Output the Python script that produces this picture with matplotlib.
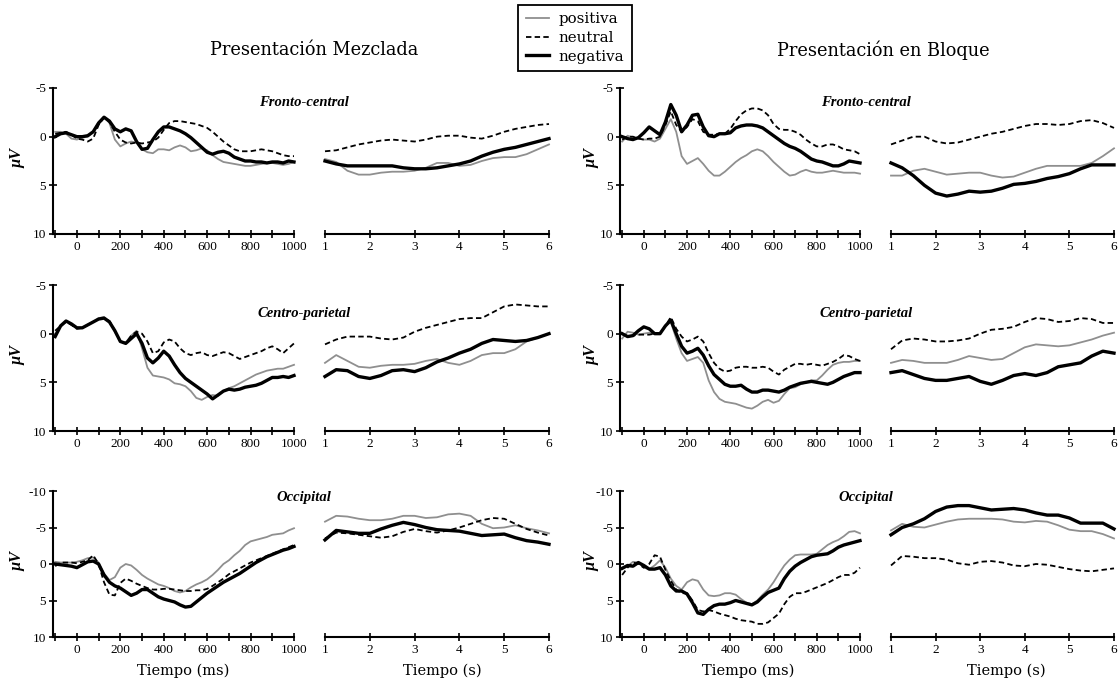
import matplotlib
matplotlib.use('Agg')
import matplotlib.pyplot as plt
from matplotlib.lines import Line2D
from matplotlib.ticker import MultipleLocator, FixedLocator

# ---------------- data ----------------
t_ms = list(range(-100, 1001, 25))          # ms sample times
t_s = [1 + 0.25 * i for i in range(21)]      # s sample times

conditions = ['positiva', 'neutral', 'negativa']
regions = ['Fronto-central', 'Centro-parietal', 'Occipital']
groups = ['Presentación Mezclada', 'Presentación en Bloque']

# Mezclada - Fronto-central
mez_fc_pos_ms = [-0.5, -0.5, -0.3, 0.2, 0.3, 0.1, 0.0, -0.5, -1.5, -2.0, -1.4, 0.3, 1.0, 0.7, 0.5, 0.6, 1.3, 1.6, 1.7, 1.3, 1.3, 1.4, 1.1, 0.9, 1.1, 1.5, 1.4, 1.2, 1.4, 1.9, 2.3, 2.6, 2.7, 2.8, 2.9, 3.0, 3.0, 2.9, 2.8, 2.7, 2.7, 2.8, 2.9, 2.8, 2.6]
mez_fc_neu_ms = [-0.3, -0.4, -0.5, -0.2, 0.2, 0.3, 0.5, 0.2, -1.2, -2.0, -1.5, -0.5, 0.3, 0.6, 0.7, 0.6, 0.7, 0.6, 0.5, 0.1, -0.7, -1.4, -1.6, -1.6, -1.5, -1.4, -1.3, -1.1, -0.9, -0.5, 0.0, 0.5, 0.9, 1.3, 1.5, 1.5, 1.5, 1.4, 1.3, 1.4, 1.5, 1.7, 1.9, 2.0, 2.0]
mez_fc_neg_ms = [0.0, -0.3, -0.4, -0.2, 0.0, 0.0, -0.1, -0.5, -1.4, -2.0, -1.6, -0.8, -0.5, -0.8, -0.6, 0.5, 1.3, 1.2, 0.3, -0.5, -1.0, -1.0, -0.8, -0.6, -0.3, 0.1, 0.6, 1.1, 1.6, 1.8, 1.6, 1.5, 1.7, 2.1, 2.3, 2.5, 2.5, 2.6, 2.6, 2.7, 2.6, 2.6, 2.7, 2.5, 2.6]
mez_fc_pos_s = [2.3, 2.6, 3.5, 3.9, 3.9, 3.7, 3.6, 3.6, 3.5, 3.2, 2.7, 2.7, 3.0, 2.9, 2.5, 2.2, 2.1, 2.1, 1.8, 1.3, 0.8]
mez_fc_neu_s = [1.5, 1.4, 1.1, 0.8, 0.6, 0.4, 0.3, 0.4, 0.5, 0.3, 0.0, -0.1, -0.1, 0.1, 0.2, -0.1, -0.5, -0.8, -1.0, -1.2, -1.3]
mez_fc_neg_s = [2.5, 2.8, 3.0, 3.0, 3.0, 3.0, 3.0, 3.2, 3.3, 3.3, 3.2, 3.0, 2.8, 2.5, 2.0, 1.6, 1.3, 1.1, 0.8, 0.5, 0.2]

# Bloque - Fronto-central
blo_fc_pos_ms = [0.5, -0.1, 0.1, 0.2, 0.3, 0.3, 0.5, 0.2, -0.8, -1.8, -0.5, 2.0, 2.8, 2.5, 2.2, 2.8, 3.5, 4.0, 4.0, 3.6, 3.1, 2.6, 2.2, 1.9, 1.5, 1.3, 1.5, 2.0, 2.6, 3.1, 3.6, 4.0, 3.9, 3.6, 3.4, 3.6, 3.7, 3.7, 3.6, 3.5, 3.6, 3.7, 3.7, 3.7, 3.8]
blo_fc_neu_ms = [0.3, 0.0, 0.0, 0.2, 0.3, 0.2, 0.2, 0.0, -1.2, -2.6, -1.2, -0.5, -1.0, -1.8, -1.6, -0.5, -0.2, -0.2, -0.3, -0.3, -0.8, -1.6, -2.3, -2.7, -2.9, -2.9, -2.7, -2.2, -1.3, -0.8, -0.7, -0.7, -0.5, -0.2, 0.3, 0.7, 1.0, 1.0, 0.8, 0.8, 1.0, 1.3, 1.4, 1.5, 1.8]
blo_fc_neg_ms = [0.0, 0.2, 0.3, 0.1, -0.4, -1.0, -0.6, -0.2, -1.5, -3.3, -2.2, -0.5, -1.2, -2.2, -2.3, -1.0, -0.1, 0.0, -0.3, -0.3, -0.4, -0.9, -1.1, -1.2, -1.2, -1.1, -0.9, -0.5, -0.1, 0.3, 0.7, 1.0, 1.2, 1.5, 1.9, 2.3, 2.5, 2.6, 2.8, 3.0, 3.0, 2.8, 2.5, 2.6, 2.7]
blo_fc_pos_s = [4.0, 4.0, 3.5, 3.3, 3.6, 3.9, 3.8, 3.7, 3.7, 4.0, 4.2, 4.1, 3.7, 3.3, 3.0, 3.0, 3.0, 3.0, 2.7, 2.0, 1.2]
blo_fc_neu_s = [0.8, 0.4, 0.0, 0.0, 0.5, 0.7, 0.6, 0.3, 0.0, -0.3, -0.5, -0.8, -1.1, -1.3, -1.3, -1.2, -1.3, -1.6, -1.7, -1.4, -0.9]
blo_fc_neg_s = [2.7, 3.2, 4.0, 5.0, 5.8, 6.1, 5.9, 5.6, 5.7, 5.6, 5.3, 4.9, 4.8, 4.6, 4.3, 4.1, 3.8, 3.3, 2.9, 2.9, 2.9]

# Mezclada - Centro-parietal
mez_cp_pos_ms = [0.0, -0.7, -1.3, -0.9, -0.6, -0.6, -0.9, -1.2, -1.6, -1.7, -1.3, -0.2, 0.8, 0.9, 0.2, -0.3, 1.5, 3.5, 4.3, 4.4, 4.5, 4.7, 5.1, 5.2, 5.4, 5.9, 6.6, 6.8, 6.5, 6.3, 6.4, 5.9, 5.6, 5.4, 5.1, 4.8, 4.5, 4.2, 4.0, 3.8, 3.7, 3.6, 3.6, 3.4, 3.2]
mez_cp_neu_ms = [-0.3, -0.8, -1.2, -0.9, -0.5, -0.6, -0.9, -1.2, -1.5, -1.6, -1.3, -0.3, 0.8, 1.0, 0.2, -0.2, 0.0, 0.8, 2.0, 1.8, 0.9, 0.6, 0.8, 1.5, 2.0, 2.2, 2.0, 1.9, 2.2, 2.3, 2.1, 1.9, 2.0, 2.3, 2.6, 2.4, 2.2, 2.0, 1.8, 1.5, 1.3, 1.6, 2.0, 1.5, 1.0]
mez_cp_neg_ms = [0.3, -0.8, -1.3, -1.0, -0.6, -0.6, -0.9, -1.2, -1.5, -1.6, -1.2, -0.3, 0.8, 1.0, 0.5, 0.0, 1.0, 2.5, 3.0, 2.5, 1.8, 2.3, 3.2, 4.0, 4.6, 5.0, 5.4, 5.8, 6.2, 6.7, 6.3, 5.9, 5.7, 5.8, 5.7, 5.5, 5.4, 5.3, 5.1, 4.8, 4.5, 4.5, 4.4, 4.5, 4.3]
mez_cp_pos_s = [3.0, 2.2, 2.8, 3.4, 3.5, 3.3, 3.2, 3.2, 3.1, 2.8, 2.6, 3.0, 3.2, 2.8, 2.2, 2.0, 2.0, 1.6, 0.8, 0.4, 0.0]
mez_cp_neu_s = [1.1, 0.6, 0.3, 0.3, 0.3, 0.5, 0.6, 0.4, -0.2, -0.6, -0.9, -1.2, -1.5, -1.6, -1.6, -2.2, -2.8, -3.0, -2.9, -2.8, -2.8]
mez_cp_neg_s = [4.4, 3.7, 3.8, 4.4, 4.6, 4.3, 3.8, 3.7, 3.9, 3.5, 2.9, 2.5, 2.0, 1.6, 1.0, 0.6, 0.7, 0.8, 0.7, 0.4, 0.0]

# Bloque - Centro-parietal
blo_cp_pos_ms = [0.5, -0.2, -0.1, 0.1, 0.0, -0.1, 0.0, 0.0, -0.8, -1.2, 0.5, 2.0, 2.8, 2.6, 2.4, 3.0, 4.8, 6.0, 6.7, 7.0, 7.1, 7.2, 7.4, 7.6, 7.7, 7.4, 7.0, 6.8, 7.1, 6.9, 6.2, 5.6, 5.5, 5.2, 5.0, 4.8, 4.8, 4.3, 3.7, 3.2, 3.0, 2.9, 2.9, 2.8, 2.8]
blo_cp_neu_ms = [0.0, 0.3, 0.2, 0.1, 0.1, 0.1, 0.0, 0.0, -0.8, -1.7, -0.5, 0.3, 0.8, 0.6, 0.3, 0.8, 2.0, 3.0, 3.6, 3.9, 3.8, 3.5, 3.4, 3.4, 3.5, 3.5, 3.4, 3.5, 3.9, 4.2, 3.7, 3.4, 3.1, 3.1, 3.2, 3.1, 3.2, 3.3, 3.1, 2.9, 2.6, 2.2, 2.3, 2.6, 2.8]
blo_cp_neg_ms = [0.0, 0.3, 0.2, -0.3, -0.7, -0.5, 0.0, 0.0, -0.8, -1.4, 0.0, 1.3, 2.0, 1.8, 1.5, 2.2, 3.3, 4.2, 4.7, 5.2, 5.4, 5.4, 5.3, 5.7, 6.0, 6.0, 5.8, 5.8, 5.9, 6.0, 5.8, 5.5, 5.3, 5.1, 5.0, 4.9, 5.0, 5.1, 5.2, 5.0, 4.7, 4.4, 4.2, 4.0, 4.0]
blo_cp_pos_s = [3.0, 2.7, 2.8, 3.0, 3.0, 3.0, 2.7, 2.3, 2.5, 2.7, 2.6, 2.0, 1.4, 1.1, 1.2, 1.3, 1.2, 0.9, 0.6, 0.2, -0.1]
blo_cp_neu_s = [1.6, 0.7, 0.5, 0.6, 0.8, 0.8, 0.7, 0.5, 0.0, -0.4, -0.5, -0.7, -1.2, -1.6, -1.5, -1.2, -1.3, -1.6, -1.5, -1.1, -1.1]
blo_cp_neg_s = [4.0, 3.8, 4.2, 4.6, 4.8, 4.8, 4.6, 4.4, 4.9, 5.2, 4.8, 4.3, 4.1, 4.3, 4.0, 3.4, 3.2, 3.0, 2.3, 1.8, 2.0]

# Mezclada - Occipital
mez_oc_pos_ms = [-0.3, -0.2, -0.2, -0.2, -0.3, -0.5, -0.8, -0.9, -0.2, 1.3, 2.2, 1.8, 0.5, 0.0, 0.2, 0.8, 1.5, 2.0, 2.4, 2.8, 3.0, 3.3, 3.7, 3.9, 3.7, 3.2, 2.8, 2.5, 2.1, 1.5, 0.8, 0.0, -0.5, -1.2, -1.8, -2.6, -3.1, -3.3, -3.5, -3.7, -4.0, -4.1, -4.2, -4.6, -4.9]
mez_oc_neu_ms = [0.3, -0.2, -0.2, -0.2, -0.1, -0.3, -0.5, -1.2, 0.0, 2.5, 4.2, 4.3, 2.6, 2.0, 2.3, 2.7, 3.0, 3.3, 3.5, 3.5, 3.4, 3.4, 3.5, 3.6, 3.7, 3.7, 3.6, 3.6, 3.4, 3.0, 2.5, 2.0, 1.4, 1.0, 0.6, 0.2, -0.2, -0.5, -0.8, -1.1, -1.4, -1.7, -2.0, -2.3, -2.6]
mez_oc_neg_ms = [0.0, 0.1, 0.2, 0.3, 0.5, 0.1, -0.3, -0.4, 0.0, 1.5, 2.5, 3.0, 3.3, 3.8, 4.3, 4.0, 3.5, 3.5, 4.0, 4.5, 4.8, 5.0, 5.2, 5.6, 5.9, 5.8, 5.2, 4.6, 4.0, 3.5, 3.0, 2.5, 2.1, 1.7, 1.3, 0.8, 0.3, -0.2, -0.6, -1.0, -1.3, -1.6, -1.9, -2.1, -2.4]
mez_oc_pos_s = [-5.8, -6.6, -6.5, -6.2, -6.0, -6.0, -6.2, -6.6, -6.6, -6.3, -6.4, -6.8, -6.9, -6.6, -5.5, -4.9, -5.0, -5.3, -4.9, -4.6, -4.2]
mez_oc_neu_s = [-3.5, -4.3, -4.2, -4.0, -3.8, -3.6, -3.8, -4.4, -4.8, -4.5, -4.3, -4.6, -5.0, -5.5, -6.0, -6.3, -6.2, -5.5, -4.8, -4.3, -3.9]
mez_oc_neg_s = [-3.3, -4.6, -4.4, -4.2, -4.2, -4.8, -5.3, -5.7, -5.4, -5.0, -4.7, -4.6, -4.5, -4.2, -3.9, -4.0, -4.1, -3.6, -3.2, -3.0, -2.7]

# Bloque - Occipital
blo_oc_pos_ms = [0.5, 0.3, -0.3, -0.2, 0.5, 0.7, 0.2, -0.5, 0.5, 2.0, 3.0, 3.5, 2.5, 2.1, 2.3, 3.5, 4.3, 4.4, 4.3, 4.0, 4.0, 4.2, 4.8, 5.3, 5.5, 5.0, 4.2, 3.5, 2.5, 1.3, 0.2, -0.6, -1.2, -1.3, -1.3, -1.3, -1.4, -2.0, -2.6, -3.0, -3.3, -3.8, -4.4, -4.5, -4.2]
blo_oc_neu_ms = [1.5, 0.5, -0.2, 0.0, 0.5, 0.0, -1.2, -1.0, 0.8, 2.3, 3.5, 4.0, 4.0, 5.0, 6.3, 6.5, 6.3, 6.5, 6.8, 7.0, 7.2, 7.5, 7.7, 7.8, 7.9, 8.2, 8.2, 8.0, 7.4, 6.8, 5.5, 4.5, 4.0, 4.0, 3.8, 3.5, 3.2, 2.9, 2.6, 2.2, 1.8, 1.5, 1.5, 1.2, 0.5]
blo_oc_neg_ms = [0.6, 0.2, 0.3, -0.2, 0.2, 0.7, 0.7, 0.5, 1.5, 3.0, 3.7, 3.7, 4.1, 5.3, 6.7, 6.9, 6.2, 5.7, 5.5, 5.5, 5.3, 5.0, 5.2, 5.4, 5.6, 5.2, 4.5, 3.9, 3.6, 3.3, 2.0, 1.0, 0.3, -0.2, -0.6, -1.0, -1.2, -1.3, -1.4, -1.8, -2.3, -2.6, -2.8, -3.0, -3.2]
blo_oc_pos_s = [-4.6, -5.5, -5.1, -5.0, -5.4, -5.8, -6.1, -6.2, -6.2, -6.2, -6.1, -5.8, -5.7, -5.9, -5.8, -5.3, -4.7, -4.5, -4.5, -4.1, -3.5]
blo_oc_neu_s = [0.2, -1.1, -1.0, -0.8, -0.8, -0.6, -0.1, 0.1, -0.3, -0.4, -0.2, 0.2, 0.3, 0.0, 0.1, 0.4, 0.7, 0.9, 1.0, 0.8, 0.6]
blo_oc_neg_s = [-4.0, -5.0, -5.5, -6.2, -7.2, -7.8, -8.0, -8.0, -7.7, -7.4, -7.5, -7.6, -7.4, -7.0, -6.7, -6.7, -6.3, -5.6, -5.6, -5.6, -4.8]

panels = {
    (0, 0): ((mez_fc_pos_ms, mez_fc_neu_ms, mez_fc_neg_ms), (mez_fc_pos_s, mez_fc_neu_s, mez_fc_neg_s)),
    (0, 1): ((blo_fc_pos_ms, blo_fc_neu_ms, blo_fc_neg_ms), (blo_fc_pos_s, blo_fc_neu_s, blo_fc_neg_s)),
    (1, 0): ((mez_cp_pos_ms, mez_cp_neu_ms, mez_cp_neg_ms), (mez_cp_pos_s, mez_cp_neu_s, mez_cp_neg_s)),
    (1, 1): ((blo_cp_pos_ms, blo_cp_neu_ms, blo_cp_neg_ms), (blo_cp_pos_s, blo_cp_neu_s, blo_cp_neg_s)),
    (2, 0): ((mez_oc_pos_ms, mez_oc_neu_ms, mez_oc_neg_ms), (mez_oc_pos_s, mez_oc_neu_s, mez_oc_neg_s)),
    (2, 1): ((blo_oc_pos_ms, blo_oc_neu_ms, blo_oc_neg_ms), (blo_oc_pos_s, blo_oc_neu_s, blo_oc_neg_s)),
}

# ---------------- styling / layout ----------------
W, H = 1120, 685
GRAY = '#8f8f8f'
styles = [dict(color=GRAY, lw=1.3, ls='-'),
          dict(color='black', lw=1.3, ls=(0, (3.0, 1.8))),
          dict(color='black', lw=2.4, ls='-')]
TICKFONT = dict(family='Liberation Serif', size=9.5)
SERIF2 = 'DejaVu Serif'

fig = plt.figure(figsize=(W / 100, H / 100), dpi=100)


def add_ax(x0, x1, ytop, ybot):
    return fig.add_axes([x0 / W, 1 - ybot / H, (x1 - x0) / W, (ybot - ytop) / H])


col_x = [((53, 294), (325, 549)), ((620, 860), (891, 1114))]
row_y = [(88, 234), (285, 431), (491, 637)]
region_x = [304, 866]
region_y = [103, 313, 497]
ylab_x = [17, 591]


def style_ax(ax):
    for side in ['top', 'right']:
        ax.spines[side].set_visible(False)
    for side in ['left', 'bottom']:
        ax.spines[side].set_linewidth(1.5)
    ax.tick_params(which='both', direction='inout', width=1.2, pad=2,
                   labelsize=TICKFONT['size'])
    ax.tick_params(which='major', length=6)
    ax.tick_params(which='minor', length=6)
    for lab in ax.get_xticklabels() + ax.get_yticklabels():
        lab.set_family(TICKFONT['family'])
    ax.patch.set_alpha(0)


for (r, g), (ms_series, s_series) in panels.items():
    (mx0, mx1), (sx0, sx1) = col_x[g]
    ytop, ybot = row_y[r]
    lo = -10 if r == 2 else -5
    yt = [-10, -5, 0, 5, 10] if r == 2 else [-5, 0, 5, 10]

    ax1 = add_ax(mx0, mx1, ytop, ybot)
    for vals, st in zip(ms_series, styles):
        ax1.plot(t_ms, vals, **st, clip_on=False)
    ax1.set_xlim(-110, 1000)
    ax1.set_ylim(10, lo)
    ax1.xaxis.set_major_locator(FixedLocator([0, 200, 400, 600, 800, 1000]))
    ax1.xaxis.set_minor_locator(MultipleLocator(100))
    ax1.yaxis.set_major_locator(FixedLocator(yt))
    ax1.set_yticklabels([str(v) for v in yt])
    ax1.set_xticklabels(['0', '200', '400', '600', '800', '1000'])
    style_ax(ax1)

    ax2 = add_ax(sx0, sx1, ytop, ybot)
    for vals, st in zip(s_series, styles):
        ax2.plot(t_s, vals, **st, clip_on=False)
    ax2.set_xlim(1, 6)
    ax2.set_ylim(10, lo)
    ax2.xaxis.set_major_locator(FixedLocator([1, 2, 3, 4, 5, 6]))
    ax2.set_xticklabels(['1', '2', '3', '4', '5', '6'])
    style_ax(ax2)
    ax2.spines['left'].set_visible(False)
    ax2.tick_params(axis='y', left=False, labelleft=False)

    # region label
    fig.text(region_x[g] / W, 1 - region_y[r] / H, regions[r], ha='center', va='center',
             family='Liberation Serif', style='italic', weight='bold', size=10.5)
    # y label
    fig.text(ylab_x[g] / W, 1 - ((ytop + ybot) / 2 - 3) / H, 'µV', rotation=90,
             ha='center', va='center', family='Liberation Serif', style='italic',
             weight='bold', size=11.5)

# titles
fig.text(314 / W, 1 - 50 / H, groups[0], ha='center', va='center', family=SERIF2, size=12.8)
fig.text(883 / W, 1 - 50 / H, groups[1], ha='center', va='center', family=SERIF2, size=12.8)

# x labels
for xc, lab in [(183, 'Tiempo (ms)'), (442, 'Tiempo (s)'), (748, 'Tiempo (ms)'), (1006, 'Tiempo (s)')]:
    fig.text(xc / W, 1 - 671 / H, lab, ha='center', va='center', family=SERIF2, size=10.5)

# legend
handles = [Line2D([], [], **st) for st in styles]
leg = fig.legend(handles, conditions, loc='upper left', bbox_to_anchor=(518 / W, 1 - 5 / H),
                 frameon=True, fancybox=False, edgecolor='black', framealpha=1,
                 prop={'family': SERIF2, 'size': 10.8}, handlelength=1.55,
                 borderpad=0.5, labelspacing=0.3, handletextpad=0.65, borderaxespad=0)
leg.get_frame().set_linewidth(1.3)

fig.savefig('out.png', dpi=100)
